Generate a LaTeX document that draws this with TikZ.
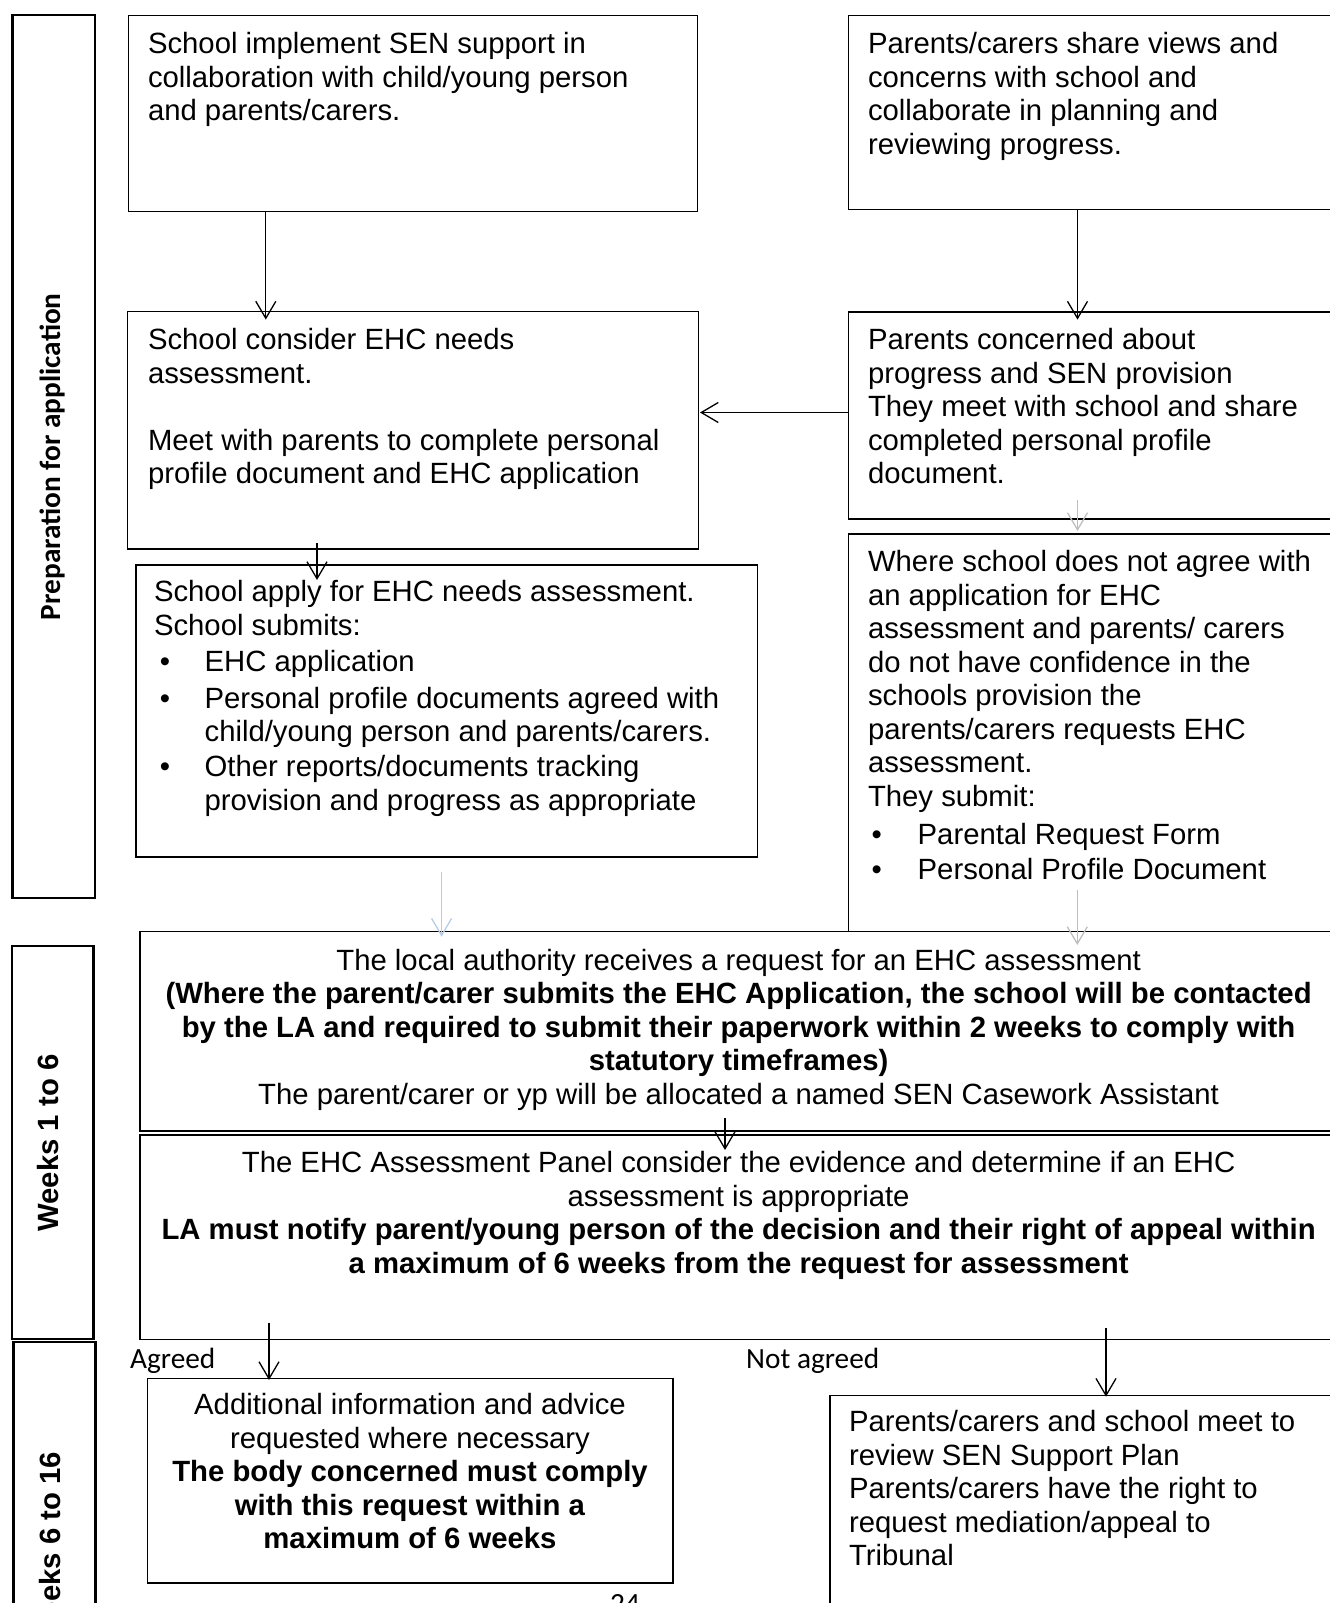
\documentclass[tikz,border=0pt]{standalone}
\usepackage{fontspec}
\setmainfont{Liberation Sans}
\newfontfamily\calibri{Carlito}
\usetikzlibrary{arrows.meta,calc}
\definecolor{greyarr}{RGB}{190,190,190}
\definecolor{bluearr}{RGB}{184,204,228}
\begin{document}
\begin{tikzpicture}[x=1pt,y=-1pt,
  box/.style={draw, line width=1.2pt, inner sep=0pt, outer sep=0pt, anchor=north west},
  sidebar/.style={draw, line width=2.4pt, inner sep=0pt, outer sep=0pt, anchor=north west},
  txt/.style={inner sep=0pt, outer sep=0pt, anchor=north west, align=left, font=\fontsize{29.3}{33.5}\selectfont},
  ctxt/.style={inner sep=0pt, outer sep=0pt, anchor=north, align=center, font=\fontsize{29.3}{33.5}\selectfont},
  sidelabel/.style={inner sep=0pt, rotate=90},
  cal/.style={inner sep=0pt, anchor=base west, font=\calibri\fontsize{29.3}{33}\selectfont},
  arr/.style={-{Straight Barb[length=17pt,width=20pt]}, line width=1.3pt},
  garr/.style={arr, draw=greyarr},
  barr/.style={arr, draw=bluearr}
]
\useasboundingbox (0,0) rectangle (1330,1603);
\clip (0,0) rectangle (1330,1603);

% side bars
\node[sidebar, minimum width=82.5pt, minimum height=882.7pt] (P1) at (12.5,15) {};
\node[sidebar, minimum width=81.5pt, minimum height=393.3pt] (P2) at (12,945.7) {};
\node[sidebar, minimum width=82.2pt, minimum height=300pt] (P3) at (13.3,1341.7) {};
\node[sidelabel, font=\calibri\bfseries\fontsize{29.3}{33}\selectfont] (P1t) at (53,456.7) {Preparation for application};
\node[sidelabel, font=\bfseries\fontsize{29.3}{33}\selectfont] (P2t) at (48.3,1143) {Weeks 1 to 6};
\node[sidelabel, font=\bfseries\fontsize{29.3}{33}\selectfont] (P3t) at (50,1548.6) {Weeks 6 to 16};

% boxes
\node[box, minimum width=568.4pt, minimum height=196.3pt] (A) at (128.8,15.3) {};
\node[box, minimum width=500pt, minimum height=194.3pt] (B) at (848.5,15.3) {};
\node[box, minimum width=570.4pt, minimum height=237.2pt] (C) at (127.8,311.8) {};
\node[box, minimum width=500pt, minimum height=207pt] (D) at (848.5,312) {};
\node[box, minimum width=621.5pt, minimum height=292pt] (E) at (136,565) {};
\node[box, minimum width=500pt, minimum height=397.5pt] (F) at (848.5,534) {};
\node[box, minimum width=1210pt, minimum height=199.5pt] (G) at (140,931.5) {};
\node[box, minimum width=1210pt, minimum height=204.3pt] (H) at (140,1135) {};
\node[box, minimum width=525.8pt, minimum height=204.7pt] (I) at (147.2,1378.3) {};
\node[box, minimum width=520pt, minimum height=250pt] (J) at (830,1395.5) {};

% texts
\node[txt] (At) at (148,30.2) {\strut School implement SEN support in\\collaboration with child/young person\\and parents/carers.};
\node[txt] (Bt) at (868,30.2) {\strut Parents/carers share views and\\concerns with school and\\collaborate in planning and\\reviewing progress.};
\node[txt] (Ct) at (148,326.5) {\strut School consider EHC needs\\assessment.\\[33.5pt]Meet with parents to complete personal\\profile document and EHC application};
\node[txt] (Dt) at (868,326.5) {\strut Parents concerned about\\progress and SEN provision\\They meet with school and share\\completed personal profile\\document.};
\node[txt] (Et) at (154,578.2) {\strut School apply for EHC needs assessment.\\School submits:\\[3pt]\makebox[50.6pt][l]{\hspace*{5.8pt}\textbullet}EHC application\\[3pt]\makebox[50.6pt][l]{\hspace*{5.8pt}\textbullet}Personal profile documents agreed with\\\hspace*{50.6pt}child/young person and parents/carers.\\[1.5pt]\makebox[50.6pt][l]{\hspace*{5.8pt}\textbullet}Other reports/documents tracking\\\hspace*{50.6pt}provision and progress as appropriate};
\node[txt] (Ft) at (868,548.3) {\strut Where school does not agree with\\an application for EHC\\assessment and parents/ carers\\do not have confidence in the\\schools provision the\\parents/carers requests EHC\\assessment.\\They submit:\\[5pt]\makebox[49.7pt][l]{\hspace*{3.7pt}\textbullet}Parental Request Form\\[1.5pt]\makebox[49.7pt][l]{\hspace*{3.7pt}\textbullet}Personal Profile Document};
\node[ctxt] (Gt) at (738.6,946.6) {\strut The local authority receives a request for an EHC assessment\\\textbf{(Where the parent/carer submits the EHC Application, the school will be contacted}\\\textbf{by the LA and required to submit their paperwork within 2 weeks to comply with}\\\textbf{statutory timeframes)}\\The parent/carer or yp will be allocated a named SEN Casework Assistant};
\node[ctxt] (Ht) at (738.6,1149.2) {\strut The EHC Assessment Panel consider the evidence and determine if an EHC\\assessment is appropriate\\\textbf{LA must notify parent/young person of the decision and their right of appeal within}\\\textbf{a maximum of 6 weeks from the request for assessment}};
\node[ctxt] (It) at (410,1391.5) {\strut Additional information and advice\\requested where necessary\\\textbf{The body concerned must comply}\\\textbf{with this request within a}\\\textbf{maximum of 6 weeks}};
\node[txt] (Jt) at (849,1408.2) {\strut Parents/carers and school meet to\\review SEN Support Plan\\Parents/carers have the right to\\request mediation/appeal to\\Tribunal};

% labels
\node[cal] (agreed) at (130,1368) {Agreed};
\node[cal] (notagreed) at (746,1368) {Not agreed};
\node[cal] (pagenum) at (610,1613.5) {24};

% arrows
\draw[arr] ($(A.south west)+(137,0)$) -- ($(C.north west)+(138,7.8)$);
\draw[arr] ($(B.south west)+(229,0)$) -- ($(D.north west)+(229,7.6)$);
\draw[arr] ($(D.north west)+(0,100.5)$) -- ($(C.north east)+(1.8,100.7)$);
\draw[arr] ($(C.south west)+(189.2,-5.7)$) -- ($(E.north west)+(181,15)$);
\draw[garr] ($(D.south west)+(229,-19)$) -- ($(F.north west)+(229,-3)$);
\draw[barr] ($(E.south west)+(305.6,14.7)$) -- ($(G.north west)+(301.6,5.2)$);
\draw[garr] ($(F.north west)+(228.8,356)$) -- ($(G.north west)+(937.3,13.5)$);
\draw[arr] ($(G.south west)+(585,-13)$) -- ($(H.north west)+(585,15)$);
\draw[arr] ($(H.south west)+(129,-16.6)$) -- ($(I.north west)+(121.8,1.7)$);
\draw[arr] ($(H.south west)+(966,-11.6)$) -- ($(J.north west)+(276,1.2)$);
\end{tikzpicture}
\end{document}
